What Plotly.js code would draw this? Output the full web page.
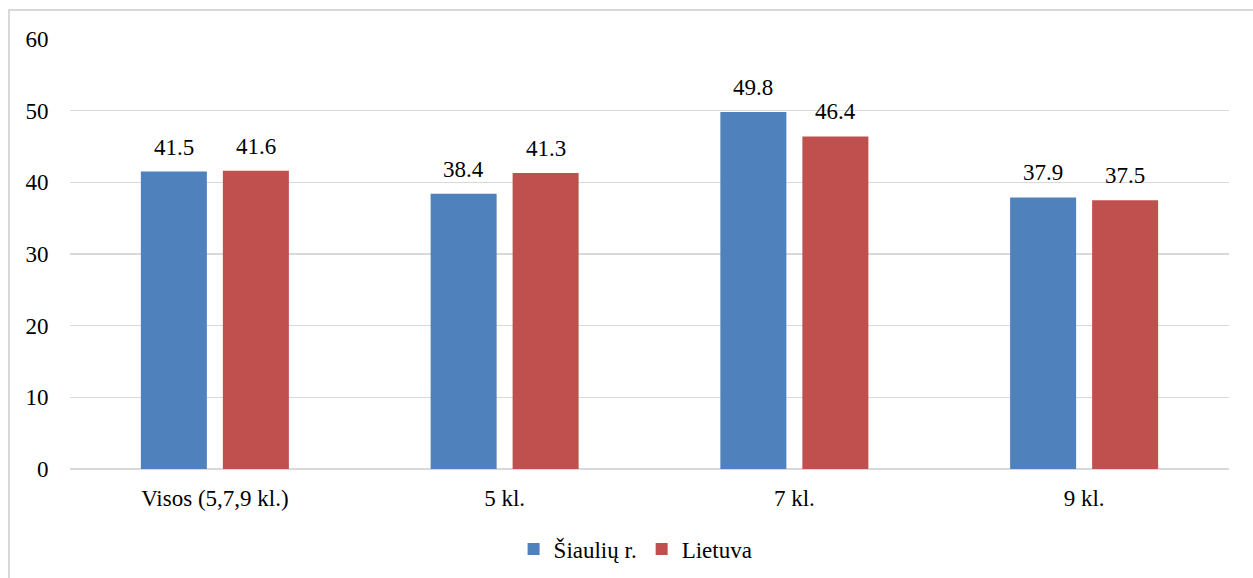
<!DOCTYPE html>
<html>
<head>
<meta charset="utf-8">
<script src="https://cdn.plot.ly/plotly-3.0.1.min.js"></script>
<style>
  html, body { margin: 0; padding: 0; overflow: hidden; background: #fff; }
  #wrap { position: relative; width: 1253px; height: 578px; }
  #chart { position: absolute; left: 0; top: 0; width: 1253px; height: 578px; }
  #frame { position: absolute; left: 8px; top: 9px; width: 1300px; height: 700px;
           border: 2px solid #d9d9d9; pointer-events: none; box-sizing: border-box; }
</style>
</head>
<body>
<div id="wrap">
  <div id="chart"></div>
  <div id="frame"></div>
</div>
<script>
// Categories and series values
const categories = ["Visos (5,7,9 kl.)", "5 kl.", "7 kl.", "9 kl."];
const siauliaiValues = [41.5, 38.4, 49.8, 37.9];
const lietuvaValues = [41.6, 41.3, 46.4, 37.5];
const seriesNames = ["Šiaulių r.", "Lietuva"];
const yTicks = [0, 10, 20, 30, 40, 50, 60];

const FONT = "Liberation Serif, serif";
const FS = 23;

function barTrace(name, values, color) {
  return {
    type: "bar",
    name: name,
    x: categories,
    y: values,
    marker: { color: color },
    hoverinfo: "x+y"
  };
}

const data = [
  barTrace(seriesNames[0], siauliaiValues, "#4F81BD"),
  barTrace(seriesNames[1], lietuvaValues, "#C0504D")
];

// Value labels above each bar; offset half a bar slot left/right of the category centre
const slotShift = 41;
const annotations = [];
[siauliaiValues, lietuvaValues].forEach((vals, si) => {
  vals.forEach((v, i) => {
    annotations.push({
      x: categories[i], y: v, xref: "x", yref: "y",
      text: v.toFixed(1), showarrow: false,
      xanchor: "center", yanchor: "bottom",
      xshift: si === 0 ? -slotShift : slotShift,
      yshift: 10,
      font: { family: FONT, size: FS, color: "#000" }
    });
  });
});

const layout = {
  width: 1253,
  height: 578,
  margin: { l: 70, r: 24, t: 39, b: 109, autoexpand: false },
  paper_bgcolor: "rgba(0,0,0,0)",
  plot_bgcolor: "#fff",
  font: { family: FONT, size: FS, color: "#000" },
  barmode: "group",
  bargap: 0.434,
  bargroupgap: 0.195,
  showlegend: true,
  annotations: annotations,
  legend: {
    orientation: "h",
    x: 0.488, xanchor: "center",
    yref: "container",
    y: 0.05, yanchor: "middle",
    font: { family: FONT, size: FS, color: "#000" },
    itemwidth: 30,
    traceorder: "normal"
  },
  xaxis: {
    type: "category",
    automargin: false,
    showgrid: false,
    showline: false,
    zeroline: false,
    ticks: "outside",
    ticklen: 8,
    tickcolor: "rgba(0,0,0,0)",
    tickfont: { family: FONT, size: FS, color: "#000" }
  },
  yaxis: {
    range: [0, 60],
    automargin: false,
    tickvals: yTicks,
    ticktext: yTicks.map(String),
    showgrid: true,
    gridcolor: "#d9d9d9",
    gridwidth: 1.5,
    zeroline: true,
    zerolinecolor: "#d9d9d9",
    zerolinewidth: 1.5,
    showline: false,
    ticks: "outside",
    ticklen: 16,
    tickcolor: "rgba(0,0,0,0)",
    tickfont: { family: FONT, size: FS, color: "#000" }
  }
};

Plotly.newPlot("chart", data, layout, { displayModeBar: false, staticPlot: true });
</script>
</body>
</html>
